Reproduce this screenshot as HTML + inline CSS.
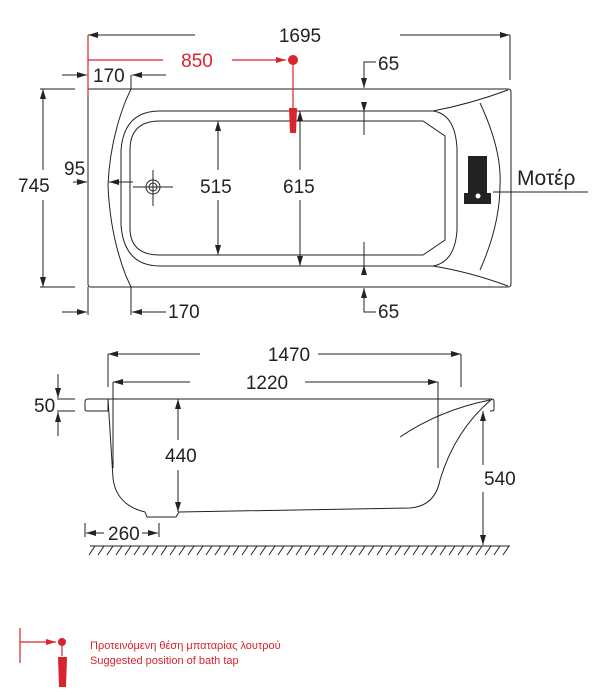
<!DOCTYPE html>
<html><head><meta charset="utf-8"><style>
html,body{margin:0;padding:0;background:#fff}
svg{display:block}
text{font-family:"Liberation Sans","DejaVu Sans",sans-serif;fill:#222}
</style></head><body>
<svg width="606" height="700" viewBox="0 0 606 700" xmlns="http://www.w3.org/2000/svg">
<defs>
<marker id="a" viewBox="0 0 10 6" refX="10" refY="3" markerWidth="10" markerHeight="6" orient="auto" markerUnits="userSpaceOnUse"><path d="M0,0L10,3L0,6z" fill="#222"/></marker>
<marker id="r" viewBox="0 0 10 6" refX="10" refY="3" markerWidth="10" markerHeight="6" orient="auto" markerUnits="userSpaceOnUse"><path d="M0,0L10,3L0,6z" fill="#d9232d"/></marker>
</defs>
<g stroke="#222" stroke-width="1" fill="none">
<!-- top view outline -->
<path d="M88,89 H508 Q511,89 511,92 V284 Q511,287 508,287 H91 Q88,287 88,284 Z"/>
<path d="M131,89 L126,100 Q110,140 108,185 Q110,235 126,276 L131,287"/>
<path d="M433,111 H160 Q124,111 121,150 V225 Q124,266 160,266 H433 Q455,262 457,230 V148 Q455,114 433,111 Z"/>
<path d="M423,121 H160 Q130,121 130,150 V228 Q130,255 160,255 H423 L445,240 V136 Z"/>
<path d="M433,111 Q470,104 508,90"/>
<path d="M433,266 Q470,272 508,286"/>
<path d="M480,103 Q502,150 500,185 Q500,225 480,270"/>
<!-- 1695 -->
<path d="M195,35 H88" marker-end="url(#a)"/>
<path d="M400,35 H510" marker-end="url(#a)"/>
<path d="M510,35 V80"/>
<!-- 170 top -->
<path d="M62,75 H87" marker-end="url(#a)"/>
<path d="M166,75 H132" marker-end="url(#a)"/>
<path d="M131,75 V89"/>
<!-- 745 -->
<path d="M40,89 H75 M40,287 H75"/>
<path d="M43,170 V89" marker-end="url(#a)"/>
<path d="M43,200 V287" marker-end="url(#a)"/>
<!-- 95 -->
<path d="M73,182 H87" marker-end="url(#a)"/>
<path d="M133,182 H109" marker-end="url(#a)"/>
<!-- drain -->
<circle cx="153" cy="187" r="7"/><circle cx="153" cy="187" r="4"/>
<path d="M133,187 H173 M153,170 V206"/>
<!-- 515 / 615 -->
<path d="M218,170 V121" marker-end="url(#a)"/>
<path d="M218,200 V255" marker-end="url(#a)"/>
<path d="M300,170 V111" marker-end="url(#a)"/>
<path d="M300,200 V266" marker-end="url(#a)"/>
<!-- 65 -->
<path d="M376,62 H364 V88" marker-end="url(#a)"/>
<path d="M364,111 V135 M364,266 V242"/>
<path d="M364,112 V128" marker-start="url(#a)"/>
<path d="M364,265 V250" marker-start="url(#a)"/>
<path d="M376,312 H364 V288" marker-end="url(#a)"/>
<!-- bottom 170 -->
<path d="M88,287 V315 M131,287 V315"/>
<path d="M62,312 H87" marker-end="url(#a)"/>
<path d="M166,312 H132" marker-end="url(#a)"/>
<!-- motor line -->
<path d="M493,192 H588"/>
</g>
<rect x="468" y="156" width="19" height="38" fill="#222"/>
<rect x="464" y="193" width="27" height="11" fill="#222"/>
<circle cx="478" cy="196" r="2.5" fill="#fff"/>
<!-- red -->
<g stroke="#d9232d" stroke-width="1.2" fill="none">
<path d="M88,35 V97"/>
<path d="M88,60 H163 M232,60 H286" marker-end="url(#r)"/>
<path d="M293,60 V108"/>
</g>
<circle cx="293" cy="60" r="5" fill="#d9232d"/>
<path d="M289,108 H297 L296,133 H290 Z" fill="#d9232d"/>
<text x="300" y="42" font-size="19" text-anchor="middle">1695</text>
<text x="197" y="67" font-size="19" text-anchor="middle" style="fill:#d9232d">850</text>
<text x="93" y="82" font-size="19">170</text>
<text x="18" y="192" font-size="19">745</text>
<text x="64" y="175" font-size="19">95</text>
<text x="200" y="193" font-size="19">515</text>
<text x="283" y="193" font-size="19">615</text>
<text x="378" y="70" font-size="19">65</text>
<text x="378" y="318" font-size="19">65</text>
<text x="168" y="318" font-size="19">170</text>
<text x="517" y="185" font-size="21">Μοτέρ</text>
<!-- side view -->
<g stroke="#222" stroke-width="1" fill="none">
<path d="M88,399 H492 Q494,399 494,402 V409 Q494,411 492,411 H490"/>
<path d="M108,399 V411 H87 Q85,411 85,409 V402 Q85,399 88,399"/>
<path d="M108,399 L113,478 Q116,505 145,512 L147,517 H176 L179,512 L410,508 Q435,506 440,480 Q455,430 492,399"/>
<path d="M400,437 Q440,410 490,400"/>
<path d="M200,354 H108" marker-end="url(#a)"/>
<path d="M318,354 H461" marker-end="url(#a)"/>
<path d="M108,354 V387 M461,354 V387"/>
<path d="M190,382 H113" marker-end="url(#a)"/>
<path d="M305,382 H438" marker-end="url(#a)"/>
<path d="M113,382 V468 M438,382 V468"/>
<path d="M178,440 V399" marker-end="url(#a)"/>
<path d="M178,470 V512" marker-end="url(#a)"/>
<path d="M483,465 V411" marker-end="url(#a)"/>
<path d="M483,492 V545" marker-end="url(#a)"/>
<path d="M58,374 V398" marker-end="url(#a)"/>
<path d="M58,436 V412" marker-end="url(#a)"/>
<path d="M57,399 H75 M57,411 H75"/>
<path d="M85,523 V537 M159,523 V537"/>
<path d="M104,533 H86" marker-end="url(#a)"/>
<path d="M142,533 H158" marker-end="url(#a)"/>
<path d="M90,546 H510"/>
<path d="M95,546l-6,9M104,546l-6,9M113,546l-6,9M122,546l-6,9M131,546l-6,9M140,546l-6,9M149,546l-6,9M158,546l-6,9M167,546l-6,9M176,546l-6,9M185,546l-6,9M194,546l-6,9M203,546l-6,9M212,546l-6,9M221,546l-6,9M230,546l-6,9M239,546l-6,9M248,546l-6,9M257,546l-6,9M266,546l-6,9M275,546l-6,9M284,546l-6,9M293,546l-6,9M302,546l-6,9M311,546l-6,9M320,546l-6,9M329,546l-6,9M338,546l-6,9M347,546l-6,9M356,546l-6,9M365,546l-6,9M374,546l-6,9M383,546l-6,9M392,546l-6,9M401,546l-6,9M410,546l-6,9M419,546l-6,9M428,546l-6,9M437,546l-6,9M446,546l-6,9M455,546l-6,9M464,546l-6,9M473,546l-6,9M482,546l-6,9M491,546l-6,9M500,546l-6,9M509,546l-6,9"/>
</g>
<text x="289" y="361" font-size="19" text-anchor="middle">1470</text>
<text x="267" y="389" font-size="19" text-anchor="middle">1220</text>
<text x="165" y="462" font-size="19">440</text>
<text x="484" y="485" font-size="19">540</text>
<text x="34" y="412" font-size="19">50</text>
<text x="108" y="540" font-size="19">260</text>
<!-- legend -->
<g stroke="#d9232d" stroke-width="1.2" fill="none">
<path d="M20,628 V663"/>
<path d="M20,642 H56" marker-end="url(#r)"/>
<path d="M62,642 V656"/>
</g>
<circle cx="62" cy="642" r="4" fill="#d9232d"/>
<path d="M58,657 H67 L66,687 H59 Z" fill="#d9232d"/>
<text x="90" y="649" font-size="11" style="fill:#d9232d">Προτεινόμενη θέση μπαταρίας λουτρού</text>
<text x="90" y="664" font-size="11" style="fill:#d9232d">Suggested position of bath tap</text>
</svg>
</body></html>
